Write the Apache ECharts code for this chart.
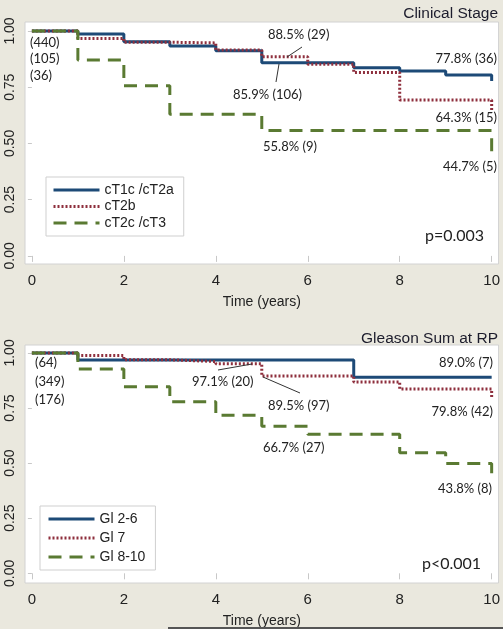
<!DOCTYPE html>
<html><head><meta charset="utf-8">
<script src="https://cdn.jsdelivr.net/npm/echarts@6/dist/echarts.min.js"></script>
<style>html,body{margin:0;padding:0;background:#eae8de}#c{width:503px;height:629px}</style>
</head><body><div id="c"></div>
<script>
// ---- data ----
const stageNames = ['cT1c /cT2a', 'cT2b', 'cT2c /cT3'];
const stageTimes = [
  [0, 1, 2, 3, 4, 5, 7, 8, 9, 10],
  [0, 1, 2, 3, 4, 5, 6, 7, 8, 10],
  [0, 1, 2, 3, 5, 10]
];
const stageSurv = [
  [1, 0.987, 0.952, 0.933, 0.912, 0.859, 0.837, 0.822, 0.804, 0.778],
  [1, 0.967, 0.950, 0.947, 0.916, 0.885, 0.852, 0.815, 0.693, 0.643],
  [1, 0.871, 0.756, 0.630, 0.558, 0.447]
];
const gleasonNames = ['Gl 2-6', 'Gl 7', 'Gl 8-10'];
const gleasonTimes = [
  [0, 1, 7, 10],
  [0, 1, 2, 3, 4, 5, 7, 8, 10],
  [0, 1, 2, 3, 4, 5, 6, 8, 9, 10]
];
const gleasonSurv = [
  [1, 0.968, 0.890, 0.890],
  [1, 0.988, 0.969, 0.961, 0.951, 0.895, 0.868, 0.836, 0.798],
  [1, 0.927, 0.846, 0.779, 0.717, 0.667, 0.631, 0.547, 0.498, 0.438]
];
const xTicks = [0, 2, 4, 6, 8, 10];
const yTicks = [0, 0.25, 0.5, 0.75, 1];
const stageTitle = 'Clinical Stage';
const gleasonTitle = 'Gleason Sum at RP';
const stageP = 'p=0.003';
const gleasonP = 'p<0.001';

// ---- styles ----
const colors = ['#1d4a77', '#8e2f3d', '#5a7a32'];
const dashes = ['solid', [2, 2], [13, 8]];
const axisFont = 'Liberation Sans, Arial, sans-serif';
const annFont = 'Lato, sans-serif';

const chart = echarts.init(document.getElementById('c'));

function xAxis(gi) {
  return {
    type: 'value', gridIndex: gi, min: -0.15, max: 10.15,
    axisLine: {show: false}, splitLine: {show: false},
    axisTick: {show: true, customValues: xTicks, length: 6, lineStyle: {color: '#c8c8c8', width: 1}},
    axisLabel: {customValues: xTicks, formatter: v => String(v), fontSize: 15, color: '#222', margin: 9, fontFamily: axisFont},
    name: 'Time (years)', nameLocation: 'middle', nameGap: 31,
    nameTextStyle: {fontSize: 14, color: '#222', fontFamily: axisFont}
  };
}
function yAxis(gi, mn, mx) {
  return {
    type: 'value', gridIndex: gi, min: mn, max: mx,
    axisLine: {show: false}, splitLine: {show: false},
    axisTick: {show: true, customValues: yTicks, length: 4, lineStyle: {color: '#c8c8c8', width: 1}},
    axisLabel: {customValues: yTicks, formatter: v => v.toFixed(2), fontSize: 14, color: '#222', margin: 8, rotate: 90, fontFamily: axisFont}
  };
}
function mkSeries(names, times, survs, gi) {
  return names.map((n, i) => ({
    name: n, type: 'line', xAxisIndex: gi, yAxisIndex: gi, step: 'end',
    symbol: 'none', silent: true,
    data: times[i].map((t, k) => [t, survs[i][k]]),
    itemStyle: {color: colors[i]},
    lineStyle: {color: colors[i], width: 3, type: dashes[i]},
    z: 2 + i
  }));
}
function legend(names, left, top, gap, pad) {
  return {
    data: names, orient: 'vertical', left: left, top: top,
    itemWidth: 46, itemHeight: 14, itemGap: gap,
    backgroundColor: '#fff', borderColor: '#cfcfcf', borderWidth: 1, borderRadius: 0,
    padding: pad, selectedMode: false,
    itemStyle: {opacity: 0},
    lineStyle: {width: 3},
    textStyle: {fontSize: 14, color: '#222', fontFamily: axisFont}
  };
}
function txt(s, x, y, align, size) {
  return {type: 'text', z: 100, style: {text: s, x: x, y: y, textAlign: align || 'left', textVerticalAlign: 'middle',
    fill: '#222', font: (size || 13) + 'px ' + annFont}};
}
function ln(x1, y1, x2, y2) {
  return {type: 'line', z: 100, shape: {x1, y1, x2, y2}, style: {stroke: '#333', lineWidth: 1}};
}

chart.setOption({
  animation: false,
  backgroundColor: '#eae8de',
  title: [
    {text: stageTitle, right: 0, top: 1, textStyle: {fontSize: 15.5, fontWeight: 'normal', color: '#1c1c2c', fontFamily: axisFont}},
    {text: gleasonTitle, right: 0, top: 326, textStyle: {fontSize: 15.5, fontWeight: 'normal', color: '#1c1c2c', fontFamily: axisFont}}
  ],
  grid: [
    {left: 25, top: 22, width: 475, height: 242, show: true, backgroundColor: '#fff', borderColor: '#d2d2d2', borderWidth: 1},
    {left: 25, top: 345, width: 475, height: 243, show: true, backgroundColor: '#fff', borderColor: '#d2d2d2', borderWidth: 1}
  ],
  xAxis: [xAxis(0), xAxis(1)],
  yAxis: [yAxis(0, -0.036, 1.04), yAxis(1, -0.044, 1.036)],
  legend: [
    legend(stageNames, 46, 177, 2.5, [6, 10, 6, 6]),
    legend(gleasonNames, 40, 506, 5, [6, 10, 6, 7])
  ],
  series: [].concat(mkSeries(stageNames, stageTimes, stageSurv, 0), mkSeries(gleasonNames, gleasonTimes, gleasonSurv, 1)),
  graphic: [
    txt('(440)', 30, 43), txt('(105)', 30, 59), txt('(36)', 30, 76),
    txt('88.5% (29)', 268, 35), ln(302, 47, 287, 57),
    txt('85.9% (106)', 233, 95), ln(279, 64, 276, 82),
    txt('77.8% (36)', 497, 59, 'right'),
    txt('64.3% (15)', 497, 118, 'right'),
    txt('55.8% (9)', 263, 147),
    txt('44.7% (5)', 497, 167, 'right'),
    txt(stageP, 425, 236, 'left', 16),
    txt('(64)', 35, 363), txt('(349)', 35, 382), txt('(176)', 35, 400),
    txt('97.1% (20)', 192, 382), ln(218, 370, 252, 364),
    txt('89.5% (97)', 268, 406), ln(300, 393, 263, 377),
    txt('89.0% (7)', 493, 363, 'right'),
    txt('79.8% (42)', 493, 412, 'right'),
    txt('66.7% (27)', 263, 448),
    txt('43.8% (8)', 492, 489, 'right'),
    txt(gleasonP, 422, 564, 'left', 16),
    {type: 'rect', z: 100, shape: {x: 168, y: 627, width: 335, height: 2}, style: {fill: '#555'}}
  ]
});
</script></body></html>
